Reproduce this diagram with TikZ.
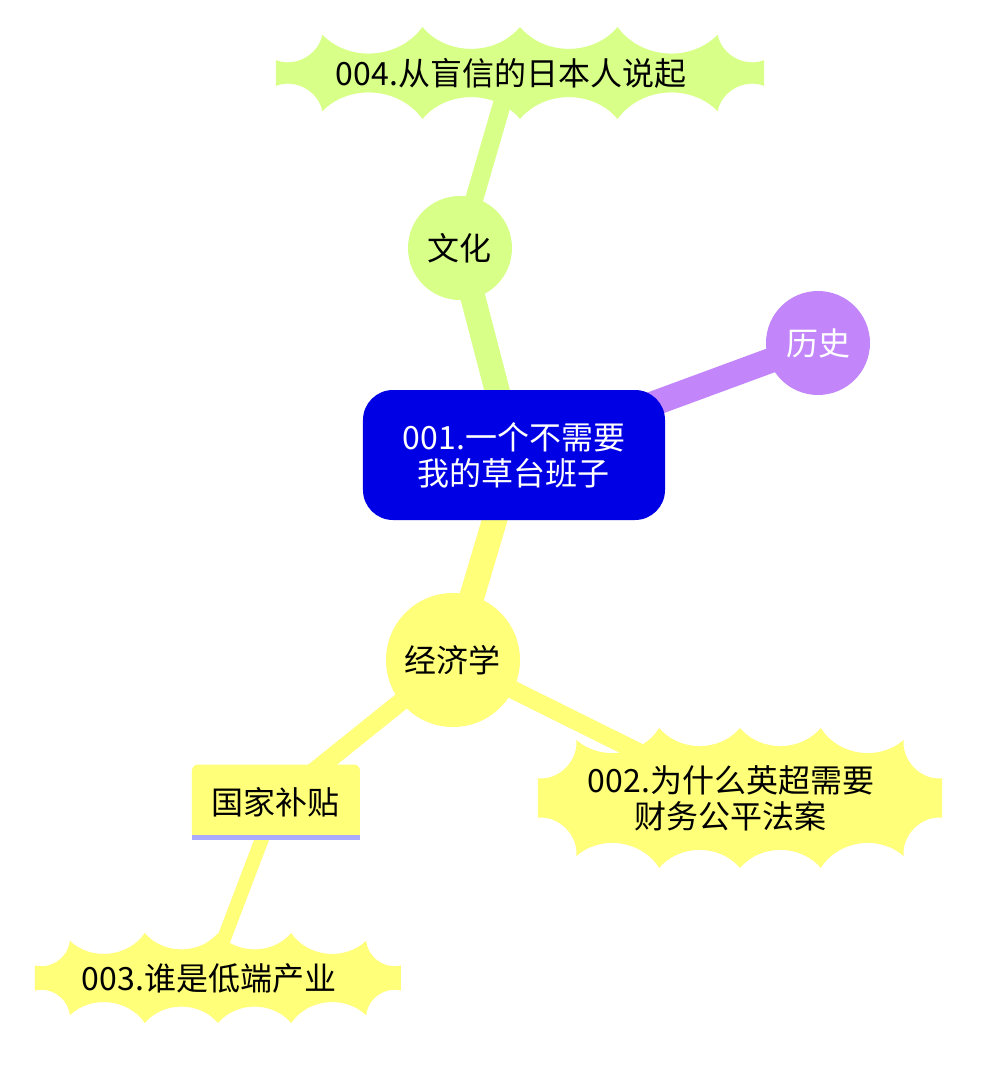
\documentclass[tikz,border=0pt]{standalone}
\usepackage{fontspec}
\setmainfont{Noto Sans CJK SC}
\usetikzlibrary{positioning}
\usepackage{xcolor}

\definecolor{rootblue}{RGB}{0,0,228}
\definecolor{histpurple}{RGB}{194,134,250}
\definecolor{culturegreen}{RGB}{216,255,136}
\definecolor{econyellow}{RGB}{255,255,122}
\definecolor{underlav}{RGB}{170,170,255}

\pgfdeclarelayer{edges}
\pgfdeclarelayer{clouds}
\pgfsetlayers{edges,clouds,main}

% scalloped fill behind an episode node: name, half width, half height, colour
\newcommand\cloudfill[4]{%
  \begin{scope}[shift={([xshift=9pt]#1.center)}, x=#2, y=#3]
    \fill[#4] (-1,0.28) to[bend right=50] (-0.81,0.83) to[bend right=50] (-0.4,1)
      to[bend right=50] (0,1) to[bend right=50] (0.4,1) to[bend right=50] (0.81,0.83)
      to[bend right=50] (1,0.28) -- (1,-0.28) to[bend right=50] (0.81,-0.83)
      to[bend right=50] (0.4,-1) to[bend right=50] (0,-1) to[bend right=50] (-0.4,-1)
      to[bend right=50] (-0.81,-0.83) to[bend right=50] (-1,-0.28) -- cycle;
  \end{scope}}

\begin{document}
\begin{tikzpicture}[
    on grid,
    font=\fontsize{32}{36}\selectfont,
    root/.style={rectangle, rounded corners=30pt, fill=rootblue, text=white, minimum width=302pt, minimum height=130pt, align=center},
    topic/.style={circle, minimum size=104pt, inner sep=0pt},
    subtopic/.style={rectangle, rounded corners=6pt, fill=econyellow, minimum width=168pt, minimum height=75pt},
    episode/.style={align=center, inner sep=0pt},
    branch/.style={line width=25pt},
    twig/.style={line width=18pt}
]
\useasboundingbox (-514pt,-619pt) rectangle (471pt,455pt);

\node[root] (root) {001.一个不需要\\我的草台班子};
\node[topic, fill=histpurple, text=white, above right=112pt and 304pt of root] (history) {历史};
\node[topic, fill=culturegreen, above left=207pt and 54pt of root] (culture) {文化};
\node[episode, above right=175pt and 51pt of culture] (ep004) {004.从盲信的日本人说起};
\node[topic, fill=econyellow, minimum size=134pt, below left=205pt and 61pt of root] (econ) {经济学};
\node[subtopic, below left=142pt and 177pt of econ] (subsidy) {国家补贴};
\node[episode, below right=138pt and 278pt of econ] (ep002) {002.为什么英超需要\\财务公平法案};
\node[episode, below left=176pt and 67pt of subsidy] (ep003) {003.谁是低端产业};

\draw[underlav, line width=5pt] ([yshift=2pt]subsidy.south west) -- ([yshift=2pt]subsidy.south east);

\begin{pgfonlayer}{clouds}
\cloudfill{ep004}{244pt}{46pt}{culturegreen}
\cloudfill{ep002}{202pt}{70pt}{econyellow}
\cloudfill{ep003}{183pt}{45pt}{econyellow}
\end{pgfonlayer}

\begin{pgfonlayer}{edges}
\draw[branch, histpurple] (root.center) -- (history.center);
\draw[branch, culturegreen] (root.center) -- (culture.center);
\draw[branch, econyellow] (root.center) -- (econ.center);
\draw[twig, culturegreen] (culture.center) -- (ep004.center);
\draw[twig, econyellow] (econ.center) -- (subsidy.center);
\draw[twig, econyellow] (econ.center) -- (ep002.center);
\draw[line width=14pt, econyellow] (subsidy.center) -- (ep003.center);
\end{pgfonlayer}

\end{tikzpicture}
\end{document}
